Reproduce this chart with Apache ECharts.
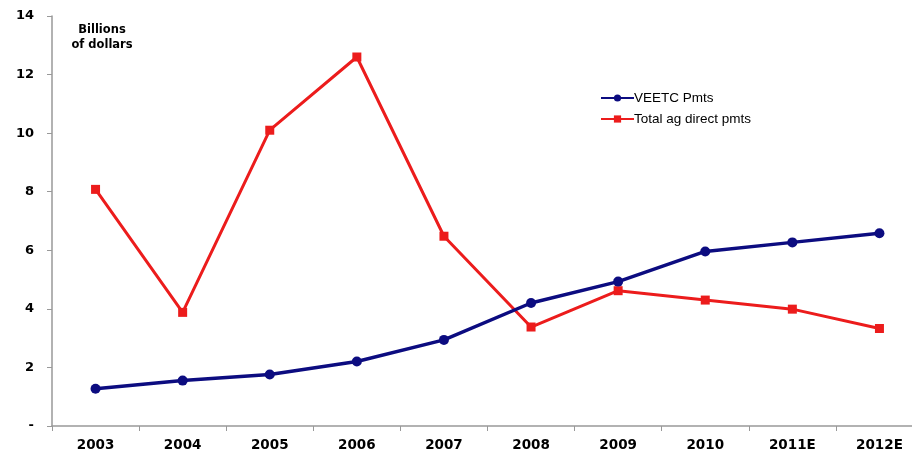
<!DOCTYPE html>
<html>
<head>
<meta charset="utf-8">
<script src="https://cdn.jsdelivr.net/npm/echarts@6/dist/echarts.min.js"></script>
<style>
  html, body { margin: 0; padding: 0; background: #fff; }
  #chart { width: 912px; height: 454px; }
</style>
</head>
<body>
<div id="chart"></div>
<script>
const years = ["2003", "2004", "2005", "2006", "2007", "2008", "2009", "2010", "2011E", "2012E"];
const veetcPmts = [1.27, 1.55, 1.76, 2.2, 2.94, 4.2, 4.93, 5.96, 6.27, 6.58];
const totalAgDirect = [8.08, 3.88, 10.1, 12.6, 6.48, 3.38, 4.62, 4.3, 3.99, 3.33];
const yTicks = ["-", "2", "4", "6", "8", "10", "12", "14"];

const boldFont = "'DejaVu Sans', 'Liberation Sans', Arial, sans-serif";
const plainFont = "'Liberation Sans', Arial, sans-serif";

const myChart = echarts.init(document.getElementById("chart"));

myChart.setOption({
  animation: false,
  backgroundColor: "#fff",
  title: {
    text: "Billions\nof dollars",
    left: 97,
    top: 18,
    textAlign: "center",
    textStyle: {
      fontFamily: boldFont,
      fontSize: 11.5,
      fontWeight: "bold",
      color: "#000",
      lineHeight: 15,
    },
  },
  legend: {
    orient: "vertical",
    left: 595,
    top: 86,
    itemWidth: 33,
    itemHeight: 9,
    itemGap: 7,
    textStyle: {
      fontFamily: plainFont,
      fontSize: 13.5,
      color: "#000",
      padding: [0, 0, 0, -5],
    },
    data: ["VEETC Pmts", "Total ag direct pmts"],
  },
  grid: {
    left: 52,
    width: 871,
    top: 16,
    bottom: 28,
    outerBoundsMode: "none",
  },
  xAxis: {
    type: "category",
    data: years,
    boundaryGap: true,
    axisLine: { lineStyle: { color: "#999", width: 1.5 } },
    axisTick: { show: true, length: 5, lineStyle: { color: "#999" } },
    axisLabel: {
      margin: 12,
      fontFamily: boldFont,
      fontSize: 13.5,
      fontWeight: "bold",
      color: "#000",
    },
  },
  yAxis: {
    type: "value",
    min: 0,
    max: 14,
    interval: 2,
    splitLine: { show: false },
    axisLine: { show: true, lineStyle: { color: "#999", width: 1.5 } },
    axisTick: { show: true, length: 5, inside: false, lineStyle: { color: "#999" } },
    axisLabel: {
      margin: 18,
      fontFamily: boldFont,
      fontSize: 13,
      fontWeight: "bold",
      color: "#000",
      formatter: (v) => yTicks[Math.round(v / 2)],
    },
  },
  series: [
    {
      name: "VEETC Pmts",
      type: "line",
      data: veetcPmts,
      symbol: "circle",
      symbolSize: 10,
      itemStyle: { color: "#0c0c80" },
      lineStyle: { color: "#0c0c80", width: 3.5 },
      z: 3,
    },
    {
      name: "Total ag direct pmts",
      type: "line",
      data: totalAgDirect,
      symbol: "rect",
      symbolSize: 9,
      itemStyle: { color: "#ec1c1c" },
      lineStyle: { color: "#ec1c1c", width: 3 },
      z: 2,
    },
  ],
});
</script>
</body>
</html>
